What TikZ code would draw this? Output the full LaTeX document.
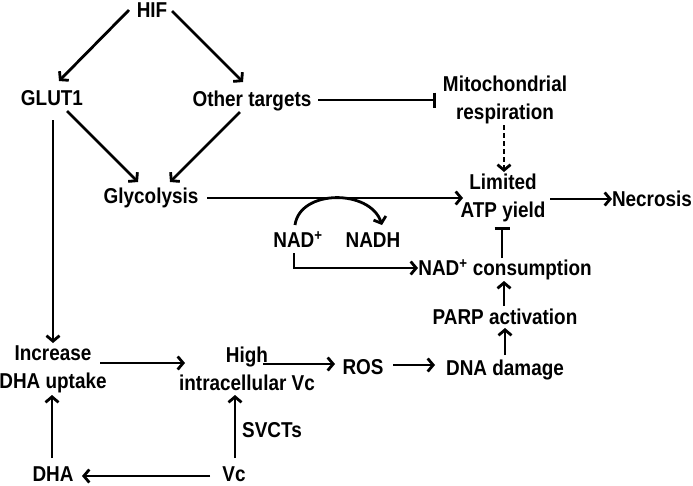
\documentclass[tikz,border=0pt]{standalone}
\usepackage{fontspec}
\setmainfont{Liberation Sans}[FakeStretch=0.88]
\usetikzlibrary{arrows.meta}
\begin{document}
\begin{tikzpicture}[x=1pt,y=-1pt,
  lab/.style={font=\fontsize{21.5}{28}\selectfont\bfseries, inner sep=0pt, text height=15.5pt, text depth=0pt},
  lab2/.style={font=\fontsize{21.5}{28}\selectfont\bfseries, inner sep=0pt, align=center},
  conn/.style={line width=2.8pt},
  arr/.style={conn, -{Straight Barb[length=5.5pt,width=13pt]}},
  inh/.style={conn, -{Bar[width=15pt]}},
  dsh/.style={arr, dash pattern=on 5pt off 3pt}]
\useasboundingbox (0,0) rectangle (693,485);
\node[lab] (hif) at (152,10) {HIF};
\node[lab] (glut) at (52,98) {GLUT1};
\node[lab] (other) at (252,99) {Other targets};
\node[lab2] (mito) at (505,99.5) {Mitochondrial\\respiration};
\node[lab] (glyc) at (151,196) {Glycolysis};
\node[lab2] (atp) at (503,197.5) {Limited\\ATP yield};
\node[lab] (necro) at (652,199) {Necrosis};
\node[lab] (nadp) at (298,240) {NAD\textsuperscript{+}};
\node[lab] (nadh) at (373,240) {NADH};
\node[lab] (cons) at (505,268) {NAD\textsuperscript{+} consumption};
\node[lab] (parp) at (505,317) {PARP activation};
\node[lab] (dna) at (505,368) {DNA damage};
\node[lab] (ros) at (363,367) {ROS};
\node[lab2] (high) at (247,369) {High\\intracellular Vc};
\node[lab2] (incr) at (53,369) {Increase\\DHA uptake};
\node[lab] (svct) at (272,430) {SVCTs};
\node[lab] (vc) at (234,474) {Vc};
\node[lab] (dha) at (53,474) {DHA};

\draw[arr] ([shift={(-23,0)}]hif.center) -- ([shift={(7,-17)}]glut.center);
\draw[arr] ([shift={(20,1)}]hif.center) -- ([shift={(-9,-17)}]other.center);
\draw[arr] ([shift={(15,13)}]glut.center) -- ([shift={(-13,-14)}]glyc.center);
\draw[arr] ([shift={(-12,13)}]other.center) -- ([shift={(19,-14)}]glyc.center);
\draw[arr] ([shift={(1,22)}]glut.center) -- ([shift={(0,-26)}]incr.center);
\draw[inh] ([shift={(66,1)}]other.center) -- ([shift={(-69,0.5)}]mito.center);
\draw[dsh] ([shift={(-1,25.5)}]mito.center) -- ([shift={(1,-25.5)}]atp.center);
\draw[arr] ([shift={(56,2)}]glyc.center) -- ([shift={(-40,0.5)}]atp.center);
\draw[arr] ([shift={(47,1.5)}]atp.center) -- ([shift={(-40,0)}]necro.center);
\draw[arr] ([shift={(-3,-15)}]nadp.center) .. controls ([shift={(2,-51)}]nadp.center) and ([shift={(-3,-51)}]nadh.center) .. ([shift={(9,-15)}]nadh.center);
\draw[arr] ([shift={(-4,13)}]nadp.center) |- ([shift={(-87,0)}]cons.center);
\draw[inh] ([shift={(-3,-10)}]cons.center) -- ([shift={(-1,29.5)}]atp.center);
\draw[arr] ([shift={(-1,-11)}]parp.center) -- ([shift={(-1,13)}]cons.center);
\draw[arr] ([shift={(0,-13)}]dna.center) -- ([shift={(0,11)}]parp.center);
\draw[arr] ([shift={(30,-2)}]ros.center) -- ([shift={(-70,-3)}]dna.center);
\draw[arr] ([shift={(16,-5)}]high.center) -- ([shift={(-28,-3)}]ros.center);
\draw[arr] ([shift={(47,-6)}]incr.center) -- ([shift={(-62,-6)}]high.center);
\draw[arr] ([shift={(-1,-16)}]dha.center) -- ([shift={(-1,26)}]incr.center);
\draw[arr] ([shift={(1,-16)}]vc.center) -- ([shift={(-12,26)}]high.center);
\draw[arr] ([shift={(-24,2)}]vc.center) -- ([shift={(29,2)}]dha.center);
\end{tikzpicture}
\end{document}
